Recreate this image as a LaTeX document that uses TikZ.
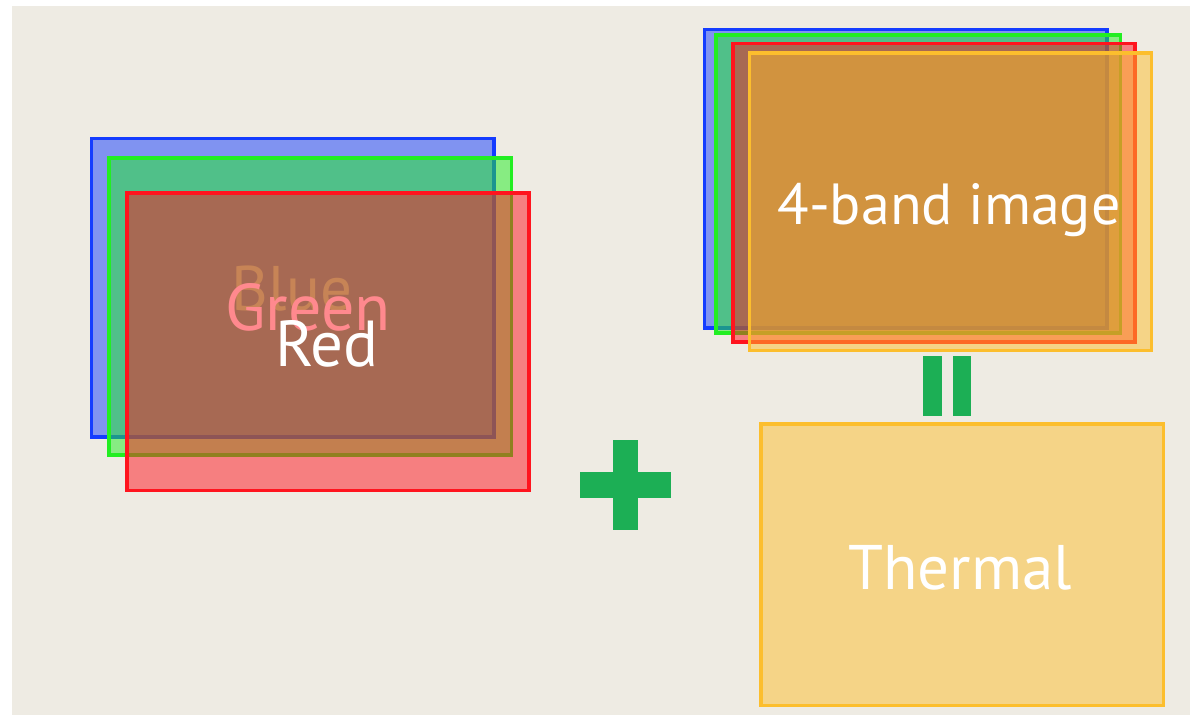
\documentclass[tikz,border=0pt]{standalone}
\usepackage{fontspec}
\setmainfont{PT Sans}
\usetikzlibrary{fit}
\definecolor{bg}{RGB}{238,235,227}
\definecolor{bandblue}{RGB}{20,60,255}
\definecolor{bandgreen}{RGB}{34,238,34}
\definecolor{bandred}{RGB}{255,20,30}
\definecolor{bandorange}{RGB}{252,190,45}
\definecolor{signgreen}{RGB}{28,175,85}
\begin{document}
\begin{tikzpicture}[x=1pt,y=-1pt,
  band/.style={draw=#1, fill=#1, fill opacity=0.5, line width=3.6pt, rectangle, inner sep=0pt, outer sep=0pt},
  lbl/.style={text=white, anchor=base, inner sep=0pt, font=\fontsize{#1}{#1}\selectfont},
  signbar/.style={fill=signgreen, draw=none, rectangle, inner sep=0pt, outer sep=0pt}]
\useasboundingbox (0,0) rectangle (1190,715);
\fill[white] (0,0) rectangle (1190,715);
\fill[bg] (12,6) rectangle (1190,715);
% left stack
\node[band=bandblue, fit={(91.5,138.5) (494,437)}] (lblue) {};
\node[lbl=63] (tblue) at (292,310.7) {Blue};
\node[band=bandgreen, fit={(109,158) (511.5,455)}] (lgreen) {};
\node[lbl=66] (tgreen) at (308,330) {Green};
\node[band=bandred, fit={(127,193) (529,490.5)}] (lred) {};
\node[lbl=65] (tred) at (327,366.7) {Red};
% plus
\node[signbar, fit={(612.7,440) (638.3,530)}] (plusv) {};
\node[signbar, fit={(580,472.3) (670.7,497.7)}] (plush) {};
% right stack
\node[band=bandblue, fit={(704.5,29.5) (1107,328)}] (rblue) {};
\node[band=bandgreen, fit={(716,35) (1120.5,333)}] (rgreen) {};
\node[band=bandred, fit={(733,43.5) (1135,342)}] (rred) {};
\node[band=bandorange, fit={(749.5,53) (1151.5,350.5)}] (rorange) {};
\node[lbl=58] (tfour) at (949,224.3) {4-band image};
% equals
\node[signbar, fit={(923.3,356) (941.7,415.7)}] (eqa) {};
\node[signbar, fit={(953.3,356) (971,415.7)}] (eqb) {};
% thermal
\node[band=bandorange, fit={(761,424) (1163.5,705.5)}] (thermal) {};
\node[lbl=63] (tthermal) at (960,589.3) {Thermal};
\end{tikzpicture}
\end{document}
